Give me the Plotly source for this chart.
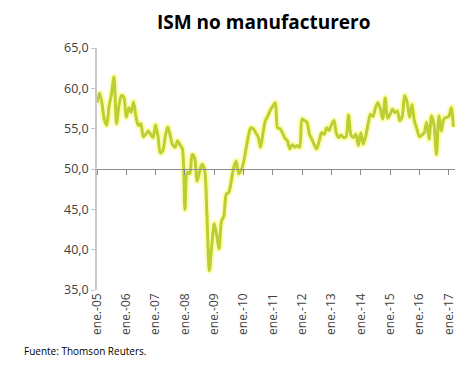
import plotly.graph_objects as go
import pandas as pd

# Monthly ISM non-manufacturing index, Jan 2005 - Mar 2017
v2005 = [58.2, 59.4, 58.3, 56.2, 55.4, 57.8, 59.3, 61.4, 55.6, 57.8, 59.1, 58.9]
v2006 = [56.4, 57.6, 57.0, 58.3, 56.5, 55.4, 55.6, 54.0, 54.3, 54.7, 54.3, 53.9]
v2007 = [55.5, 54.0, 52.0, 52.3, 54.0, 55.2, 54.2, 53.0, 52.7, 53.5, 53.0, 52.5]
v2008 = [45.0, 49.6, 49.4, 51.8, 51.4, 48.5, 49.6, 50.6, 50.0, 44.5, 37.4, 40.5]
v2009 = [43.2, 41.8, 40.1, 43.5, 44.2, 46.9, 47.1, 48.5, 50.2, 51.0, 49.4, 49.8]
v2010 = [50.8, 52.5, 54.0, 55.1, 55.0, 54.5, 54.0, 52.7, 54.5, 56.0, 56.6, 57.3]
v2011 = [57.8, 58.2, 55.1, 55.0, 54.5, 53.8, 53.5, 52.5, 53.0, 52.7, 52.9, 52.7]
v2012 = [56.2, 56.0, 55.8, 54.3, 53.7, 53.0, 52.5, 53.5, 54.5, 54.3, 55.1, 54.8]
v2013 = [55.5, 56.0, 54.5, 53.9, 54.2, 53.9, 54.0, 56.7, 54.2, 53.9, 54.3, 52.9]
v2014 = [54.5, 53.1, 54.0, 55.5, 56.8, 56.5, 57.5, 58.2, 57.5, 56.2, 58.8, 56.3]
v2015 = [56.8, 57.4, 57.0, 57.2, 56.0, 56.5, 59.1, 58.3, 56.4, 58.0, 55.9, 55.0]
v2016 = [54.0, 54.2, 54.5, 55.8, 53.7, 56.6, 55.5, 51.8, 56.6, 54.7, 56.2, 56.4]
v2017 = [56.5, 57.6, 55.2]

values = (v2005 + v2006 + v2007 + v2008 + v2009 + v2010 + v2011 + v2012
          + v2013 + v2014 + v2015 + v2016 + v2017)
dates = pd.date_range("2005-01-01", periods=len(values), freq="MS")

tick_dates = [f"{y}-01-01" for y in range(2005, 2018)]
tick_labels = ["ene.-05", "ene.-06", "ene.-07", "ene.-08", "ene.-09", "ene.-10",
               "ene.-11", "ene.-12", "ene.-13", "ene.-14", "ene.-15", "ene.-16", "ene.-17"]
y_ticks = [35, 40, 45, 50, 55, 60, 65]

x_range = ["2005-01-01", "2017-03-20"]

fig = go.Figure()
# soft glow under the line
fig.add_trace(go.Scatter(x=dates, y=values, mode="lines",
                         line=dict(color="rgba(250,250,90,0.45)", width=7, shape="spline", smoothing=0.8),
                         hoverinfo="skip", showlegend=False))
fig.add_trace(go.Scatter(x=dates, y=values, mode="lines",
                         line=dict(color="#bccf32", width=3, shape="spline", smoothing=0.8),
                         showlegend=False))
# invisible trace to activate the mid axis (crossing at 50)
fig.add_trace(go.Scatter(x=[dates[0]], y=[50], xaxis="x2", mode="markers",
                         marker=dict(opacity=0), hoverinfo="skip", showlegend=False))

font_family = "Open Sans, Liberation Sans, sans-serif"

fig.update_layout(
    width=471, height=369,
    margin=dict(l=89, r=24, t=40, b=87),
    paper_bgcolor="white", plot_bgcolor="white",
    separators=", ",
    font=dict(family=font_family, color="#404040"),
    title=dict(text="<b>ISM no manufacturero</b>", x=0.543, xanchor="center",
               y=0.962, yanchor="middle", font=dict(size=19, color="#000000", family=font_family)),
    xaxis=dict(range=x_range, tickmode="array", tickvals=tick_dates, ticktext=tick_labels,
               tickangle=-90, tickfont=dict(size=12, color="#404040"),
               showgrid=False, showline=False, ticks="", zeroline=False, fixedrange=True),
    xaxis2=dict(range=x_range, overlaying="x", anchor="free", position=0.5, side="bottom",
                showline=True, linecolor="#8c8c8c", linewidth=1,
                ticks="outside", ticklen=5, tickcolor="#8c8c8c", tickmode="array",
                tickvals=tick_dates, showticklabels=False, showgrid=False, zeroline=False),
    yaxis=dict(range=[35, 65], tickmode="array", tickvals=y_ticks, tickformat=".1f",
               showline=True, linecolor="#c8c8c8", linewidth=1.5,
               ticks="outside", ticklen=4, tickcolor="#c8c8c8",
               tickfont=dict(size=12.5, color="#404040"),
               showgrid=False, zeroline=False),
    annotations=[dict(text="Fuente: Thomson Reuters.", xref="paper", yref="paper",
                      x=-0.21, y=-0.253, xanchor="left", yanchor="middle", showarrow=False,
                      font=dict(size=10, color="#000000", family=font_family))],
)

fig.write_html("out.html")
